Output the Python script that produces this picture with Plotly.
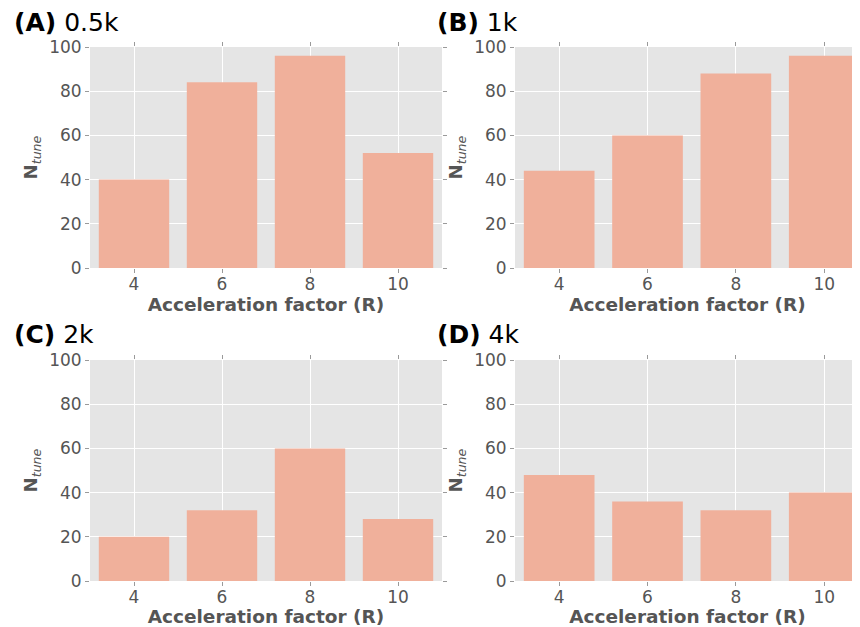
import plotly.graph_objects as go

# Data
r_values = [4, 6, 8, 10]
n_05k = [40, 84, 96, 52]
n_1k = [44, 60, 88, 96]
n_2k = [20, 32, 60, 28]
n_4k = [48, 36, 32, 40]
panel_letters = ["(A)", "(B)", "(C)", "(D)"]
panel_names = ["0.5k", "1k", "2k", "4k"]
y_ticks = [0, 20, 40, 60, 80, 100]
x_ticks = [4, 6, 8, 10]

series = [n_05k, n_1k, n_2k, n_4k]

OFF = 8  # page body margin
W, H = 860 - OFF, 627 - OFF
# pixel geometry of panels in the screen (left, right, top, bottom)
boxes = [
    (90, 442, 47, 268),
    (515, 860, 47, 268),
    (90, 442, 360, 581),
    (515, 860, 360, 581),
]
xranges = [[3.0, 11.0], [3.0, 10.81], [3.0, 11.0], [3.0, 10.81]]

FONT = "DejaVu Sans"
BAR = "rgb(240,176,155)"
GRAY = "#555555"

fig = go.Figure()
layout = dict(
    width=W, height=H,
    margin=dict(l=0, r=0, t=0, b=0, autoexpand=False),
    paper_bgcolor="white",
    plot_bgcolor="#e5e5e5",
    showlegend=False,
    font=dict(family=FONT, color=GRAY, size=17),
    annotations=[],
)

for i, (vals, box) in enumerate(zip(series, boxes)):
    l, r, t, b = [v - OFF for v in box]
    ax = "" if i == 0 else str(i + 1)
    fig.add_trace(go.Bar(
        x=r_values, y=vals, width=1.6,
        marker=dict(color=BAR, line=dict(width=0)),
        xaxis="x" + ax, yaxis="y" + ax,
    ))
    layout["xaxis" + ax] = dict(
        domain=[max(l / W, 0), min(r / W, 1)], anchor="y" + ax, automargin=False,
        range=xranges[i], tickvals=x_ticks, ticktext=[str(v) for v in x_ticks],
        showgrid=True, gridcolor="white", gridwidth=1, zeroline=False,
        ticks="outside", ticklen=4, tickcolor="#9a9a9a", mirror="ticks",
        ticklabelstandoff=-3,
        tickfont=dict(family=FONT, size=17, color=GRAY),
        title=dict(text="<b>Acceleration factor (R)</b>", standoff=3,
                   font=dict(family=FONT, size=18.5, color=GRAY)),
        showline=False,
    )
    layout["yaxis" + ax] = dict(
        domain=[1 - b / H, 1 - t / H], anchor="x" + ax, automargin=False,
        range=[0, 100], tickvals=y_ticks,
        showgrid=True, gridcolor="white", gridwidth=1, zeroline=False,
        ticks="outside", ticklen=4, tickcolor="#9a9a9a", mirror="ticks",
        tickfont=dict(family=FONT, size=17, color=GRAY),
        title=dict(text="<b>N</b><sub><i>tune</i></sub>", standoff=6,
                   font=dict(family=FONT, size=18, color=GRAY)),
        showline=False,
    )
    tx = (12 if i % 2 == 0 else 435) - OFF
    ty = (22 if i < 2 else 334) - OFF
    layout["annotations"].append(dict(
        xref="paper", yref="paper", x=tx / W, y=1 - ty / H,
        xanchor="left", yanchor="middle", showarrow=False,
        text="<b>%s</b> %s" % (panel_letters[i], panel_names[i]),
        font=dict(family=FONT, size=25, color="black"),
    ))

fig.update_layout(**layout)
fig.write_html("out.html")
